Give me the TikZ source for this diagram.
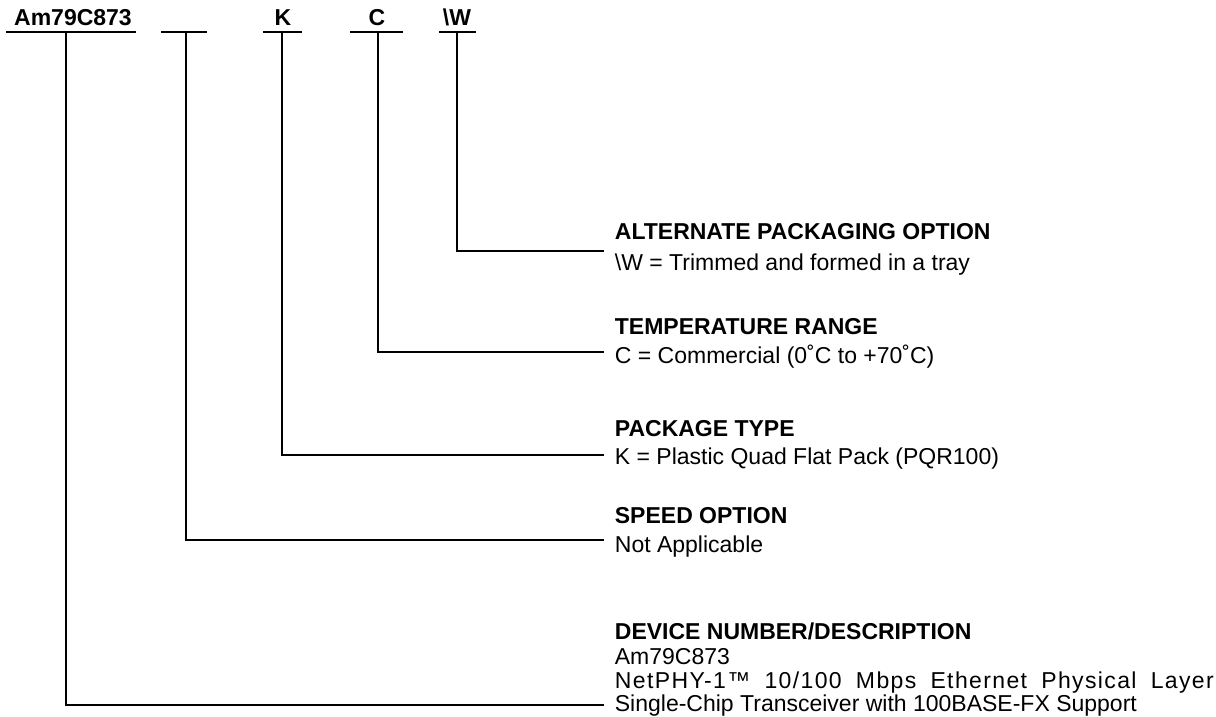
\documentclass[tikz,border=0pt]{standalone}
\usepackage{fontspec}
\setmainfont{Liberation Sans}
\newfontfamily\spacedfont{Liberation Sans}[LetterSpace=6]
\begin{document}
\begin{tikzpicture}[x=1pt,y=-1pt,line width=1.8pt,
  txt/.style={inner sep=0pt,anchor=base west,font=\fontsize{23}{25}\selectfont},
  hdr/.style={inner sep=0pt,anchor=base west,font=\fontsize{23}{25}\selectfont\bfseries},
  code/.style={inner sep=0pt,anchor=base,font=\fontsize{23}{25}\selectfont\bfseries},
  conn/.style={line width=1.8pt}]
\useasboundingbox (0,0) rectangle (1216,717);
% top code fields
\node[code] (am) at (73,26) {Am79C873};
\node[code] (k)  at (283,26) {K};
\node[code] (c)  at (377,26) {C};
\node[code] (w)  at (457,26) {\textbackslash W};
\draw[conn] (6,32) -- (136,32);
\draw[conn] (161,32) -- (207,32);
\draw[conn] (263,32) -- (302,32);
\draw[conn] (350,32) -- (403,32);
\draw[conn] (439,32) -- (476,32);
\coordinate (t1) at (66,32);
\coordinate (t2) at (186,32);
\coordinate (t3) at (282,32);
\coordinate (t4) at (378,32);
\coordinate (t5) at (457,32);
% descriptions
\node[hdr] (h5) at (614,239) {ALTERNATE PACKAGING OPTION};
\node[txt] (d5) at (614,270) {\textbackslash W = Trimmed and formed in a tray};
\node[hdr] (h4) at (614,334) {TEMPERATURE RANGE};
\node[txt] (d4) at (614,363) {C = Commercial (0˚C to +70˚C)};
\node[hdr] (h3) at (614,436) {PACKAGE TYPE};
\node[txt] (d3) at (614,464) {K = Plastic Quad Flat Pack (PQR100)};
\node[hdr] (h2) at (614,523) {SPEED OPTION};
\node[txt] (d2) at (614,552) {Not Applicable};
\node[hdr] (h1) at (614,639) {DEVICE NUMBER/DESCRIPTION};
\node[txt] (d1a) at (614,664) {Am79C873};
\node[txt] (d1b) at (614,688) {\makebox[599pt][s]{\spacedfont NetPHY-1™ 10/100 Mbps Ethernet Physical Layer}};
\node[txt] (d1c) at (614,711) {Single-Chip Transceiver with 100BASE-FX Support};
\coordinate (e5) at (604,251);
\coordinate (e4) at (604,352);
\coordinate (e3) at (604,455);
\coordinate (e2) at (604,540);
\coordinate (e1) at (604,705);
\draw[conn] (t5) |- (e5);
\draw[conn] (t4) |- (e4);
\draw[conn] (t3) |- (e3);
\draw[conn] (t2) |- (e2);
\draw[conn] (t1) |- (e1);
\end{tikzpicture}
\end{document}
